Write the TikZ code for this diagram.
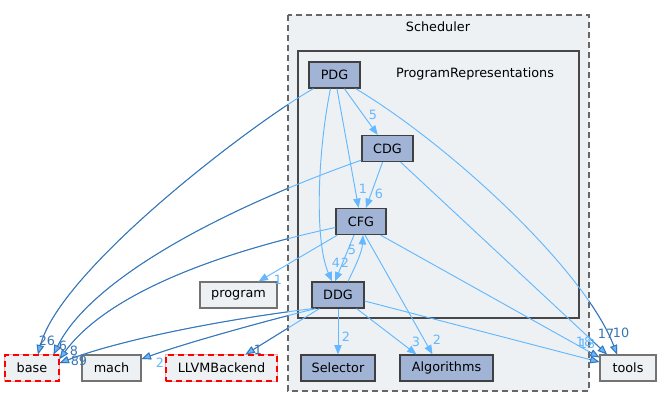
\documentclass[tikz,border=0pt]{standalone}
\usepackage{fontspec}
\setmainfont{DejaVu Sans}
\usepackage{xcolor}
\usepackage{tikz}
\usetikzlibrary{arrows.meta, calc}

\definecolor{dirblue}{HTML}{A2B4D6}
\definecolor{panel}{HTML}{EDF1F4}
\definecolor{edgeblue}{HTML}{63B8FF}
\definecolor{edgedark}{HTML}{3B74B0}

% edges that leave the Scheduler box
\newcommand{\outedges}{
\draw[arrow] ($(pdg.south west)+(5,0)$) .. controls (250,125) and (60,270) .. ($(base.north)+(6,0)$);
\draw[arrow] ($(cdg.south west)+(0,-2)$) .. controls (220,210) and (90,280) .. ($(base.north east)+(-6,0)$);
\draw[arrow] ($(cfg.west)+(0,6)$) .. controls (230,250) and (110,290) .. ($(base.east)+(0,-9)$);
\draw[arrow] ($(ddg.south west)+(1,0)$) .. controls (220,320) and (120,340) .. ($(base.east)+(0,-5)$);
\draw[arrow] ($(ddg.south west)+(4,0)$) .. controls (250,325) and (180,345) .. ($(mach.east)+(0,-9)$);
\draw[arrow] ($(ddg.south west)+(8,0)$) -- ($(llvm.north)+(24,0)$);
\draw[arrow] ($(cfg.south east)+(-6,0)$) -- ($(tools.north west)+(0,3)$);
\draw[arrow] ($(ddg.east)+(0,6)$) -- ($(tools.west)+(0,-6)$);
\draw[arrow] ($(cdg.south east)+(-13,0)$) -- ($(tools.north)+(-21,0)$);
\draw[arrow] ($(pdg.south east)+(-5,0)$) .. controls (450,145) and (585,270) .. ($(tools.north)+(-11,0)$);
}

\begin{document}
\begin{tikzpicture}[
    x=0.75pt, y=-0.75pt,
    font=\fontsize{9.6}{11}\selectfont,
    dirbox/.style={rectangle, draw=black!75, fill=dirblue, line width=0.9pt, minimum height=19.5pt, inner sep=0pt},
    extbox/.style={rectangle, draw=black!55, fill=panel, line width=0.9pt, minimum height=19.5pt, inner sep=0pt},
    redbox/.style={extbox, draw=red, dash pattern=on 4.5pt off 3pt, preaction={draw=red!35, solid}},
    arrow/.style={-{Triangle[length=7pt,width=5.5pt]}, draw=edgeblue, line width=0.7pt},
    num/.style={text=edgeblue, inner sep=0pt},
    darknum/.style={text=edgedark, inner sep=0pt}
]
\useasboundingbox (0,0) rectangle (661,408);

\draw[dash pattern=on 4.5pt off 3pt, draw=black!60, line width=0.8pt, fill=panel] (288,15) rectangle (589,391);
\node (scheduler) at (438,27) {Scheduler};
\draw[draw=black!72, line width=1.6pt, fill=panel] (298,51) rectangle (579,318);
\node (progrep) at (475,74) {ProgramRepresentations};

\node[dirbox, minimum width=38.25pt] (pdg) at (334.5,75) {PDG};
\node[dirbox, minimum width=38.25pt] (cdg) at (387.5,148.5) {CDG};
\node[dirbox, minimum width=37.5pt] (cfg) at (361,221.5) {CFG};
\node[dirbox, minimum width=39pt] (ddg) at (338,295) {DDG};
\node[extbox, minimum width=57.75pt] (program) at (238.5,295) {program};
\node[redbox, minimum width=40.5pt] (base) at (32,368) {base};
\node[extbox, minimum width=44.25pt] (mach) at (111.5,368) {mach};
\node[redbox, minimum width=83.25pt] (llvm) at (221.5,368) {LLVMBackend};
\node[dirbox, minimum width=55.5pt] (selector) at (338,368) {Selector};
\node[dirbox, minimum width=69.75pt] (algorithms) at (446.5,368) {Algorithms};
\node[extbox, minimum width=42pt] (tools) at (628,368) {tools};

\draw[arrow] (pdg) -- (cdg);
\draw[arrow] (pdg) -- (cfg);
\draw[arrow] (cdg) -- (cfg);
\draw[arrow] ($(pdg.south)+(-4,0)$) .. controls (318,150) and (314,240) .. ($(ddg.north)+(-6,0)$);
\draw[arrow] ($(cfg.south)+(-7,0)$) -- ($(ddg.north)+(-3,0)$);
\draw[arrow] ($(ddg.north)+(10,0)$) .. controls (356,265) and (362,252) .. ($(cfg.south)+(2,0)$);
\draw[arrow] ($(cfg.south west)+(2,0)$) -- ($(program.north east)+(-19,0)$);
\draw[arrow] (ddg) -- (selector);
\draw[arrow] ($(ddg.south east)+(-8,0)$) -- ($(algorithms.north)+(-30,0)$);
\draw[arrow] ($(cfg.south)+(4,0)$) -- ($(algorithms.north)+(-14,0)$);

\outedges
\begin{scope}
  \clip (0,0) rectangle (288,408) (589,0) rectangle (661,408);
  \tikzset{arrow/.style={-{Triangle[length=7pt,width=5.5pt,fill=edgeblue]}, draw=edgedark, line width=0.7pt}}
  \outedges
\end{scope}

\node[num] (n1) at (373,115) {5};
\node[num] (n2) at (363,189) {1};
\node[num] (n3) at (379,194) {6};
\node[num] (n4) at (336,263) {4};
\node[num] (n5) at (345,263) {2};
\node[num] (n6) at (352,250) {5};
\node[num] (n7) at (278,280) {1};
\node[darknum] (n8) at (47,341) {26};
\node[darknum] (n9) at (63,346) {6};
\node[darknum] (n10) at (74,351) {8};
\node[darknum] (n11) at (79,361) {89};
\node[num] (n12) at (160,363) {2};
\node[darknum] (n13) at (258,350) {1};
\node[num] (n14) at (346,337) {2};
\node[num] (n15) at (416,342) {3};
\node[num] (n16) at (437,340) {2};
\node[num] (n17) at (584,342) {18};
\node[num] (n18) at (587,344) {13};
\node[darknum] (n19) at (606,334) {17};
\node[darknum] (n20) at (621,333) {10};

\end{tikzpicture}
\end{document}
